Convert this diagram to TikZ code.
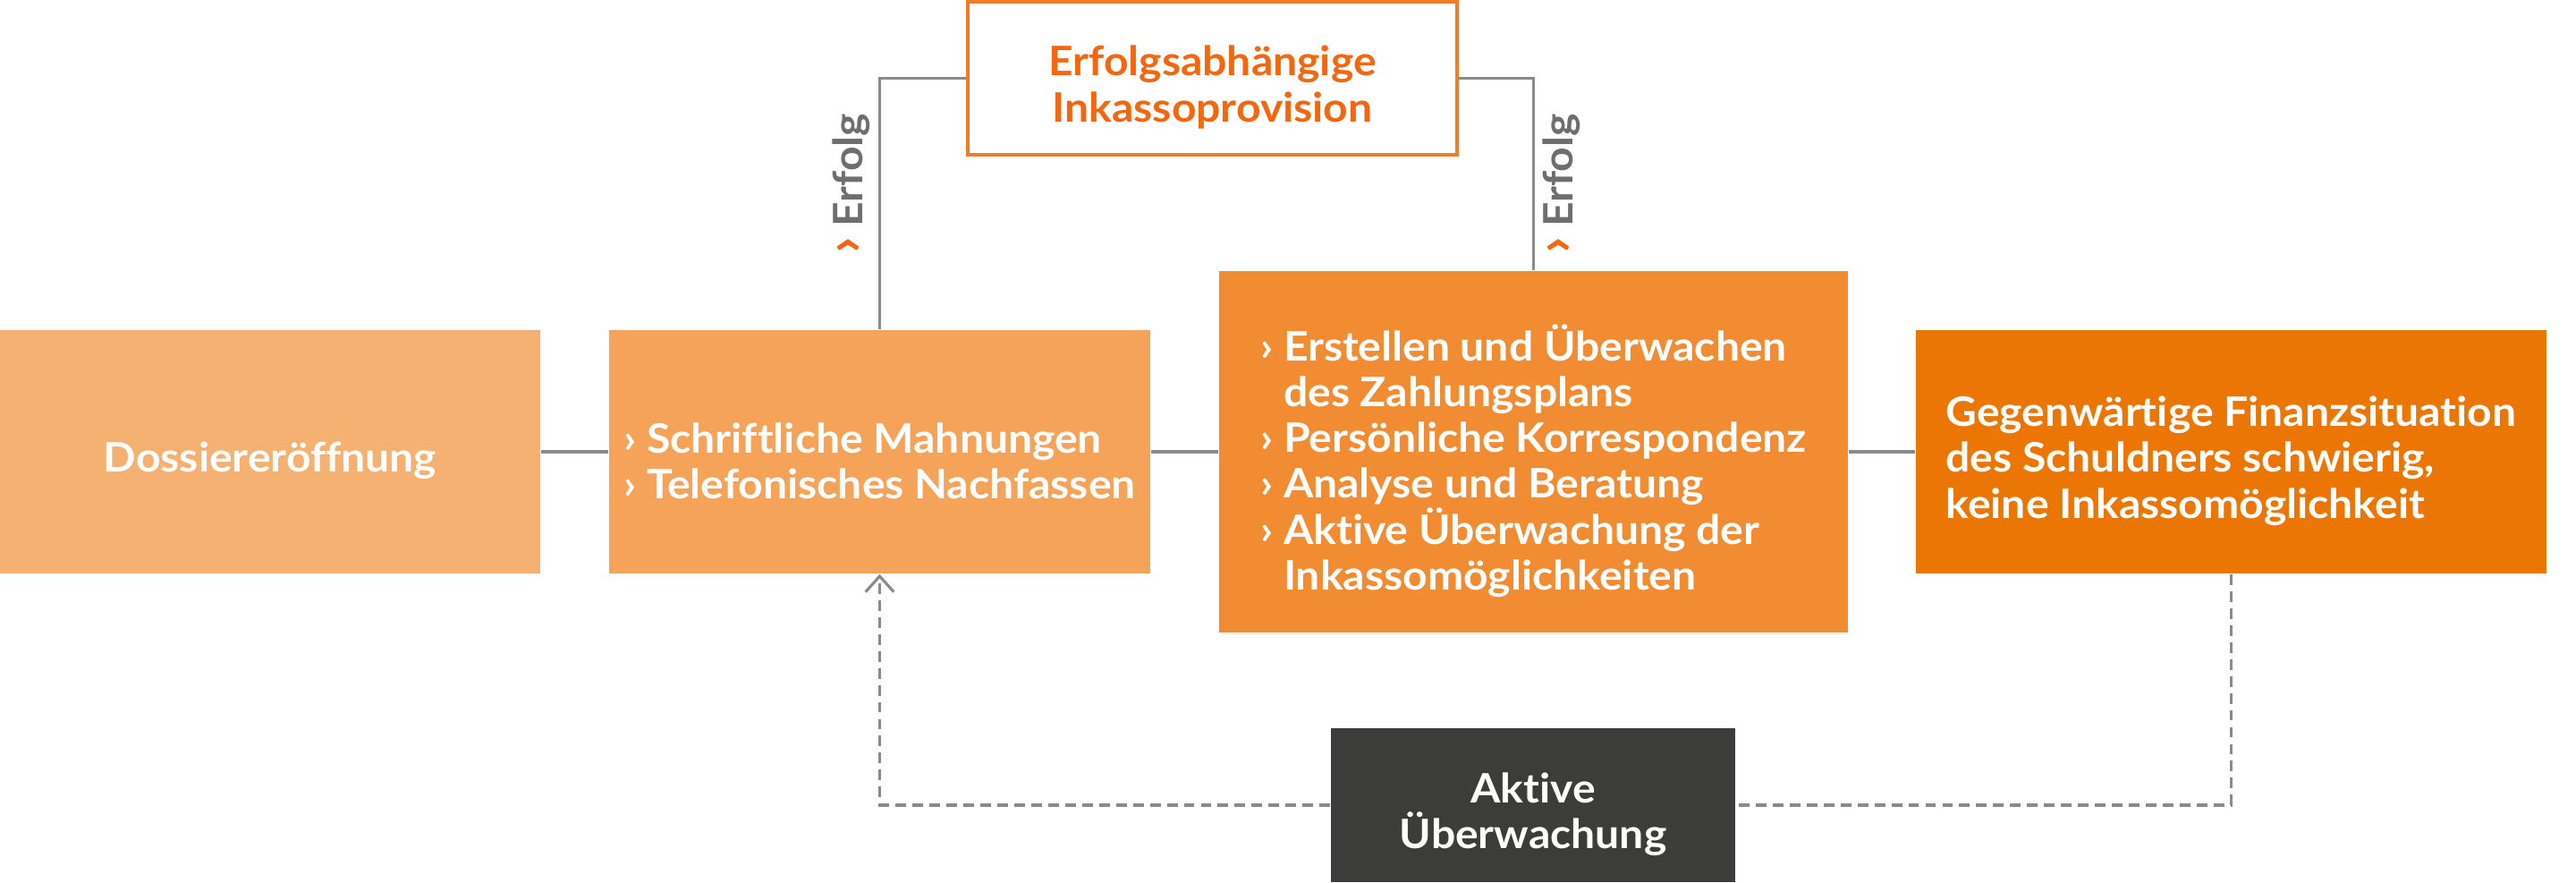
\documentclass[tikz,border=0pt]{standalone}
\usepackage{fontspec}
\setmainfont{Lato}[FakeStretch=1.06, Ligatures=CommonOff]
\usepackage{xcolor}
\usetikzlibrary{arrows.meta}

\definecolor{boxA}{HTML}{F5B171}
\definecolor{boxB}{HTML}{F4A359}
\definecolor{boxC}{HTML}{F18C33}
\definecolor{boxD}{HTML}{EC7604}
\definecolor{boxdark}{HTML}{3C3C3B}
\definecolor{orangeline}{HTML}{F07D25}
\definecolor{orangetext}{HTML}{F4670F}
\definecolor{linegray}{HTML}{8A8A8A}
\definecolor{textgray}{HTML}{6E6E6E}

\newcommand{\erfolgchev}{\textcolor{orangetext}{\fontsize{17}{14.6}\selectfont ›}}

\begin{document}
\begin{tikzpicture}[
        box/.style={fill=#1, inner sep=0pt},
        boxtext/.style={text=white, inner sep=0pt, align=left, yshift=-0.1cm,
                font=\bfseries\fontsize{12.9}{14.6}\selectfont},
        link/.style={draw=linegray, line width=0.9pt},
        back/.style={link, dash pattern=on 3.4pt off 2pt},
        erfolg/.style={rotate=90, inner sep=2.6pt, text=textgray,
                font=\bfseries\fontsize{12.9}{14.6}\selectfont},
    ]
    \useasboundingbox (0,0) rectangle (28.8,9.86);

    \node[box=boxA, minimum width=6.04cm, minimum height=2.72cm,
        label={[boxtext]center:Dossiereröffnung}] (dossier) at (3.02,4.81) {};
    \node[box=boxB, minimum width=6.05cm, minimum height=2.72cm,
        label={[boxtext]center:{› Schriftliche Mahnungen\\› Telefonisches Nachfassen}}] (mahnung) at (9.835,4.81) {};
    \node[box=boxC, minimum width=7.03cm, minimum height=4.04cm,
        label={[boxtext]center:{› Erstellen und Überwachen\\\phantom{› }des Zahlungsplans\\› Persönliche Korrespondenz\\%
                    › Analyse und Beratung\\› Aktive Überwachung der\\\phantom{› }Inkassomöglichkeiten}}] (betreuung) at (17.145,4.81) {};
    \node[box=boxD, minimum width=7.05cm, minimum height=2.72cm,
        label={[boxtext]center:{Gegenwärtige Finanzsituation\\des Schuldners schwierig,\\keine Inkassomöglichkeit}}] (finanz) at (24.945,4.81) {};

    \node[box=white, draw=orangeline, line width=1.1pt, minimum width=5.47cm, minimum height=1.71cm,
        label={[boxtext, text=orangetext, align=center]center:{Erfolgsabhängige\\Inkassoprovision}}] (provision) at (13.555,8.985) {};
    \node[box=boxdark, minimum width=4.52cm, minimum height=1.72cm,
        label={[boxtext, align=center]center:{Aktive\\Überwachung}}] (aktiv) at (17.14,0.86) {};

    \foreach \a/\b in {dossier/mahnung, mahnung/betreuung, betreuung/finanz} {
            \draw[link] (\a) -- (\b);
        }

    \draw[link] (mahnung.north) |- (provision.west)
    node[erfolg, pos=0.29, anchor=south] {\erfolgchev\ Erfolg};
    \draw[link] (betreuung.north) |- (provision.east)
    node[erfolg, pos=0.225, anchor=north] {\erfolgchev\ Erfolg};

    \draw[back] (finanz.south) |- (aktiv.east);
    \draw[back, -{Straight Barb[length=5pt, width=9pt]}] (aktiv.west) -| (mahnung.south);
\end{tikzpicture}
\end{document}
